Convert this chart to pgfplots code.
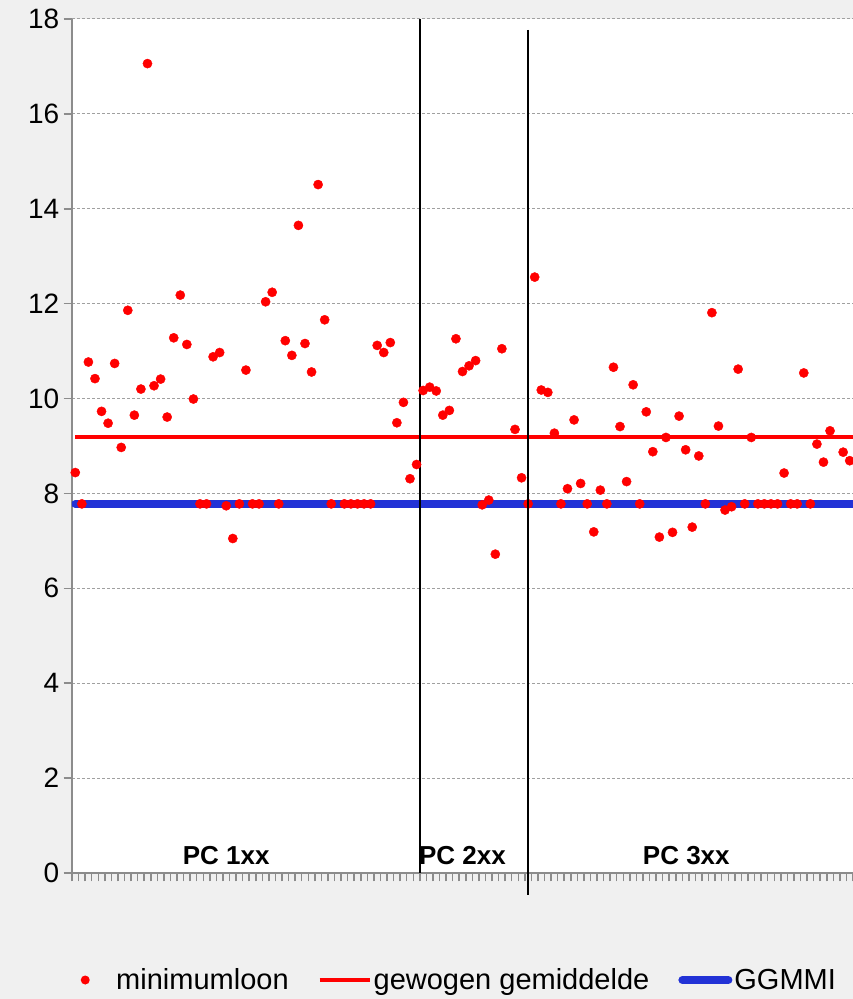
\documentclass[border=0pt]{standalone}
\usepackage{pgfplots}
\pgfplotsset{compat=1.18}
\usepackage{fontspec}
\setmainfont{Liberation Sans}
\definecolor{bg}{HTML}{F0F0F0}
\definecolor{axisgray}{HTML}{8C8C8C}
\definecolor{gridgray}{HTML}{A0A0A0}
\definecolor{ggblue}{HTML}{2232D6}
\pgfplotstableread{
i v
1 8.44
2 7.78
3 10.77
4 10.42
5 9.73
6 9.48
7 10.74
8 8.97
9 11.86
10 9.65
11 10.20
12 17.06
13 10.27
14 10.41
15 9.61
16 11.28
17 12.18
18 11.14
19 9.99
20 7.78
21 7.78
22 10.88
23 10.97
24 7.74
25 7.05
26 7.78
27 10.60
28 7.78
29 7.78
30 12.04
31 12.24
32 7.78
33 11.22
34 10.91
35 13.65
36 11.16
37 10.56
38 14.51
39 11.66
40 7.78
42 7.78
43 7.78
44 7.78
45 7.78
46 7.78
47 11.12
48 10.97
49 11.18
50 9.49
51 9.92
52 8.31
53 8.61
54 10.17
55 10.24
56 10.16
57 9.65
58 9.75
59 11.26
60 10.57
61 10.69
62 10.80
63 7.76
64 7.86
65 6.72
66 11.05
68 9.35
69 8.33
70 7.78
71 12.56
72 10.18
73 10.13
74 9.27
75 7.78
76 8.10
77 9.55
78 8.21
79 7.78
80 7.19
81 8.07
82 7.78
83 10.66
84 9.41
85 8.25
86 10.29
87 7.78
88 9.72
89 8.88
90 7.08
91 9.18
92 7.18
93 9.63
94 8.92
95 7.29
96 8.79
97 7.78
98 11.81
99 9.42
100 7.65
101 7.72
102 10.62
103 7.78
104 9.18
105 7.78
106 7.78
107 7.78
108 7.78
109 8.43
110 7.78
111 7.78
112 10.54
113 7.78
114 9.04
115 8.66
116 9.32
118 8.87
119 8.69
120 8.95
}\minloon
\begin{document}
\begin{tikzpicture}[x=1pt,y=1pt]
\fill[bg] (0,0) rectangle (853,999);
\useasboundingbox (0,0) rectangle (853,999);
\begin{axis}[
  at={(72pt,126pt)}, anchor=south west,
  scale only axis, width=781pt, height=854pt,
  xmin=0.5, xmax=119.5, ymin=0, ymax=18,
  axis x line*=bottom, axis y line*=left,
  axis line style={-, draw=axisgray, line width=2pt},
  axis background/.style={fill=white},
  ytick={0,2,...,18},
  xtick={0.5,1.5,...,119.5},
  xticklabels={},
  tick align=outside,
  major tick length=8.5pt,
  tick style={draw=axisgray, line width=1.5pt},
  ymajorgrids,
  major grid style={gridgray, dash pattern=on 3pt off 2pt, line width=1pt},
  /pgf/number format/assume math mode=true,
  yticklabel style={font=\fontsize{28}{33}\selectfont, inner sep=0pt, anchor=east, xshift=-4pt},
  legend style={at={(-0.0102,-0.1253)}, anchor=west, draw=none, fill=none,
    font=\fontsize{29}{34}\selectfont, inner sep=0pt,
    /tikz/every even column/.append style={column sep=27pt}},
  legend columns=3,
  legend cell align=left,
]
\addlegendimage{legend image code/.code={\path[draw=none, fill=none] (0pt,0pt) rectangle (50pt,0.1pt); \fill[red, draw=none] (21pt,0pt) circle (4.5pt);}}
\addlegendentry{minimumloon}
\addlegendimage{legend image code/.code={\draw[red, line width=4pt] (0pt,0pt) -- (50pt,0pt);}}
\addlegendentry{gewogen gemiddelde}
\addlegendimage{legend image code/.code={\draw[ggblue, line width=8pt, line cap=round] (4pt,0pt) -- (50pt,0pt);}}
\addlegendentry{GGMMI}
\addplot[ggblue, line width=8pt, line cap=round, forget plot] coordinates {(1,7.78) (125,7.78)};
\addplot[red, line width=4pt, forget plot] coordinates {(1,9.2) (125,9.2)};
\addplot[only marks, mark=*, mark size=4.6pt, red, forget plot] table[x=i, y=v] {\minloon};
\draw[black, line width=2pt] (axis cs:53.55,18) -- (axis cs:53.55,0);
\coordinate (v2top) at (axis cs:70,17.77);
\coordinate (v2bot) at (axis cs:70,-0.46);
\node[font=\bfseries\fontsize{26}{30}\selectfont, anchor=base] at (axis cs:24,0.17) {PC 1xx};
\node[font=\bfseries\fontsize{26}{30}\selectfont, anchor=base] at (axis cs:60,0.17) {PC 2xx};
\node[font=\bfseries\fontsize{26}{30}\selectfont, anchor=base] at (axis cs:94.1,0.17) {PC 3xx};
\end{axis}
\draw[black, line width=2pt] (v2top) -- (v2bot);
\end{tikzpicture}
\end{document}
